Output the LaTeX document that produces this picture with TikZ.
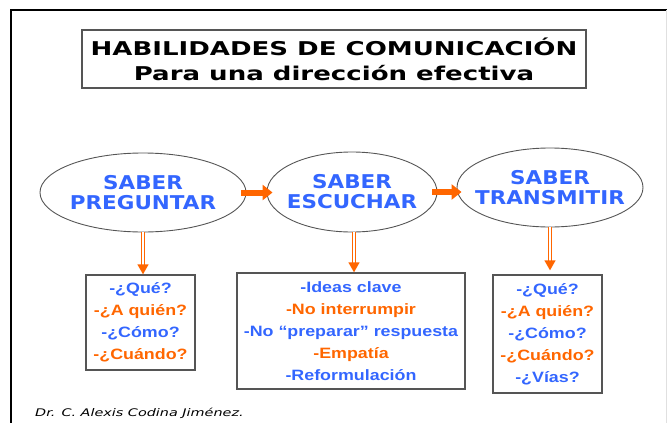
\documentclass[tikz,border=0pt]{standalone}
\usepackage{fontspec}
\newfontfamily\habwide[FakeStretch=1.37]{DejaVu Sans}
\newfontfamily\haboval[FakeStretch=1.13]{DejaVu Sans}
\newfontfamily\hablist[FakeStretch=1.19]{Liberation Sans}
\usepackage{xcolor}
\definecolor{hab_blue}{RGB}{51, 102, 255}
\definecolor{hab_orange}{RGB}{255, 102, 0}
\definecolor{hab_edge}{RGB}{85, 85, 85}
\usepackage{tikz}
\usetikzlibrary{arrows.meta, positioning, shapes.geometric}
\newcommand{\habb}[1]{\textcolor{hab_blue}{#1}}
\newcommand{\habo}[1]{\textcolor{hab_orange}{#1}}
\tikzset{
  skill/.style={draw=hab_edge, line width=0.9pt, ellipse, inner ysep=0pt,
                inner xsep=-30pt, align=center, text=hab_blue,
                font=\haboval\bfseries\fontsize{19}{20}\selectfont},
  listbox/.style={draw=hab_edge, line width=1.3pt, align=center, inner sep=0pt,
                  font=\hablist\bfseries\fontsize{15}{22}\selectfont},
  flow/.style={hab_orange, line width=6pt, -{Triangle[length=10pt, width=15pt]}},
  down/.style={hab_orange, line width=1.3pt, double=white, double distance=2pt,
               -{Triangle[length=10pt, width=11pt]}},
}

\begin{document}
\begin{tikzpicture}[x=1pt, y=-1pt]
  \useasboundingbox (0,0) rectangle (667,423);
  % page frame
  \draw[line width=1.3pt] (11,423) -- (11,10) -- (667,10);
  \draw[black!12, line width=1pt] (666,10) -- (666,423);

  \node[draw=hab_edge, line width=1.3pt, minimum width=504pt, minimum height=58pt,
        inner sep=0pt, align=center,
        font=\habwide\bfseries\fontsize{19}{25}\selectfont] (titulo) at (334,59)
        {HABILIDADES DE COMUNICACIÓN\\Para una dirección efectiva};

  \node[skill, minimum width=206pt, minimum height=79pt] (preguntar) at (143,192.5) {SABER\\PREGUNTAR};
  \node[skill, minimum width=170pt, minimum height=80pt] (escuchar) at (352,192) {SABER\\ESCUCHAR};
  \node[skill, minimum width=186pt, minimum height=79pt] (transmitir) at (550,187.5) {SABER\\TRANSMITIR};

  \node[listbox, minimum width=109pt, minimum height=95pt] (listaP) at (140.5,322.5)
    {\habb{-¿Qué?}\\\habo{-¿A quién?}\\\habb{-¿Cómo?}\\\habo{-¿Cuándo?}};
  \node[listbox, minimum width=228pt, minimum height=116pt] (listaE) at (351,331)
    {\habb{-Ideas clave}\\\habo{-No interrumpir}\\\habb{-No “preparar” respuesta}\\\habo{-Empatía}\\\habb{-Reformulación}};
  \node[listbox, minimum width=109pt, minimum height=118pt] (listaT) at (547.5,334)
    {\habb{-¿Qué?}\\\habo{-¿A quién?}\\\habb{-¿Cómo?}\\\habo{-¿Cuándo?}\\\habb{-¿Vías?}};

  \draw[flow] ([xshift=-5pt]preguntar.east) -- ([xshift=6pt]preguntar.east -| escuchar.west);
  \draw[flow] ([xshift=-5pt]escuchar.east) -- ([xshift=5pt]escuchar.east -| transmitir.west);

  \draw[down] (preguntar.south) -- (preguntar.south |- listaP.north);
  \draw[down] ([xshift=2pt]escuchar.south) -- ([xshift=2pt]escuchar.south |- listaE.north);
  \draw[down, shorten >=4pt] (transmitir.south) -- (transmitir.south |- listaT.north);

  \node[anchor=base west, inner sep=0pt,
        font=\habwide\itshape\fontsize{10.5}{12}\selectfont] (firma) at (35,416)
        {Dr. C. Alexis Codina Jiménez.};
\end{tikzpicture}
\end{document}
